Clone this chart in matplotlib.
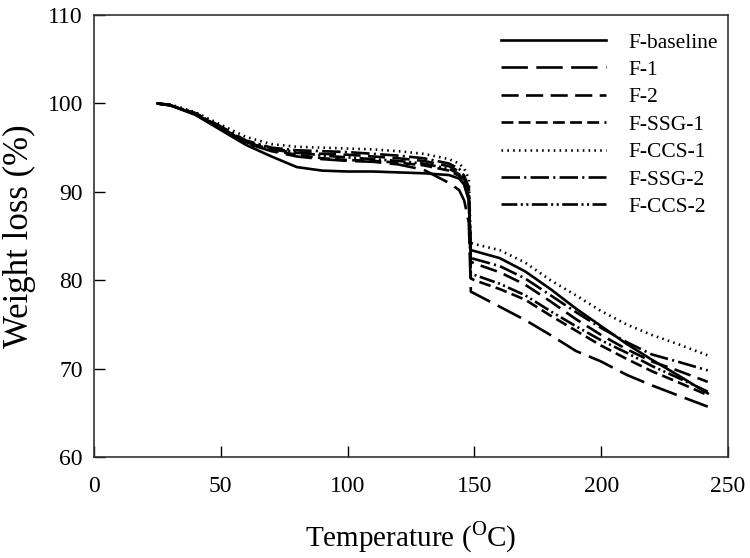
import matplotlib.pyplot as plt

plt.rcParams['font.family'] = ['Liberation Serif', 'DejaVu Serif']
plt.rcParams['mathtext.fontset'] = 'custom'
plt.rcParams['mathtext.rm'] = 'Liberation Serif'

# temperature points (degC), shared by all series
temps = [25, 30, 40, 50, 60, 70, 80, 90, 100, 110, 120, 130, 140, 144, 146, 147.8,
         148.6, 150, 160, 170, 180, 190, 200, 210, 220, 230, 242]

w_baseline = [100, 99.8, 98.7, 97.0, 95.3, 94.0, 92.8, 92.4, 92.3, 92.3, 92.2, 92.1, 91.9, 91.5, 90.8, 89.0,
              83.4, 83.3, 82.5, 81.0, 79.0, 76.8, 74.8, 72.8, 71.0, 69.3, 67.2]
w_f1 = [100, 99.8, 98.8, 97.2, 95.5, 94.6, 94.0, 93.7, 93.5, 93.4, 93.1, 92.5, 91.0, 90.2, 89.0, 86.5,
        78.7, 78.5, 77.0, 75.5, 73.8, 72.0, 70.8, 69.3, 68.1, 67.0, 65.7]
w_f2 = [100, 99.8, 98.8, 97.3, 95.6, 94.8, 94.4, 94.3, 94.2, 94.0, 93.8, 93.5, 92.9, 92.3, 91.4, 90.0,
        82.1, 81.9, 80.9, 79.5, 77.6, 75.6, 73.8, 72.2, 70.8, 69.8, 68.5]
w_ssg1 = [100, 99.8, 98.8, 97.2, 95.5, 94.7, 94.2, 93.8, 93.6, 93.5, 93.3, 93.0, 92.4, 91.8, 90.8, 89.2,
          80.2, 80.0, 79.0, 77.8, 76.0, 74.3, 72.6, 71.1, 69.7, 68.5, 67.0]
w_ccs1 = [100, 99.9, 99.0, 97.6, 96.2, 95.4, 95.1, 95.0, 94.9, 94.8, 94.6, 94.3, 93.7, 93.2, 92.6, 91.5,
          84.2, 84.1, 83.4, 82.0, 80.0, 78.3, 76.5, 75.0, 73.8, 72.8, 71.5]
w_ssg2 = [100, 99.8, 98.9, 97.4, 95.8, 95.0, 94.7, 94.6, 94.5, 94.3, 94.1, 93.8, 93.2, 92.6, 91.8, 90.5,
          82.5, 82.4, 81.6, 80.2, 78.3, 76.4, 74.6, 73.0, 71.6, 70.8, 69.8]
w_ccs2 = [100, 99.8, 98.9, 97.3, 95.7, 94.9, 94.5, 94.1, 93.9, 93.7, 93.5, 93.2, 92.6, 92.0, 91.0, 89.5,
          80.8, 80.6, 79.6, 78.3, 76.5, 74.8, 73.2, 71.8, 70.3, 69.0, 67.4]

labels = ['F-baseline', 'F-1', 'F-2', 'F-SSG-1', 'F-CCS-1', 'F-SSG-2', 'F-CCS-2']
series = [w_baseline, w_f1, w_f2, w_ssg1, w_ccs1, w_ssg2, w_ccs2]
styles = ['-', (0, (10, 3.2)), (0, (6.5, 2.8)), (0, (4.5, 2)), (0, (0.6, 1.6)),
          (0, (7, 1.6, 0.8, 1.6)), (0, (6, 1.3, 0.8, 1.3, 0.8, 1.3))]

fig = plt.figure(figsize=(7.5, 5.58), dpi=100)
ax = fig.add_axes([0.1253, 0.181, 0.8454, 0.792])

for w, lab, ls in zip(series, labels, styles):
    ax.plot(temps, w, color='black', linestyle=ls, linewidth=1.9, label=lab)

ax.set_xlim(0, 250)
ax.set_ylim(60, 110)
ax.set_xticks([0, 50, 100, 150, 200, 250])
ax.set_yticks([60, 70, 80, 90, 100, 110])
ax.tick_params(direction='in', length=8, width=1, labelsize=17)
ax.tick_params(axis='x', pad=14)
ax.tick_params(axis='y', pad=8)
for s in ax.spines.values():
    s.set_linewidth(1.2)
    s.set_color('#333333')

ax.set_xlabel(r'Temperature ($^{\mathrm{O}}$C)', fontsize=21, labelpad=16)
ax.set_ylabel('Weight loss (%)', fontsize=25, labelpad=8)

ax.legend(loc='upper right', frameon=False, fontsize=15.5, handlelength=4.9,
          handletextpad=1.05, labelspacing=0.34, borderaxespad=0,
          bbox_to_anchor=(0.998, 0.980))

fig.savefig('out.png', dpi=100)
